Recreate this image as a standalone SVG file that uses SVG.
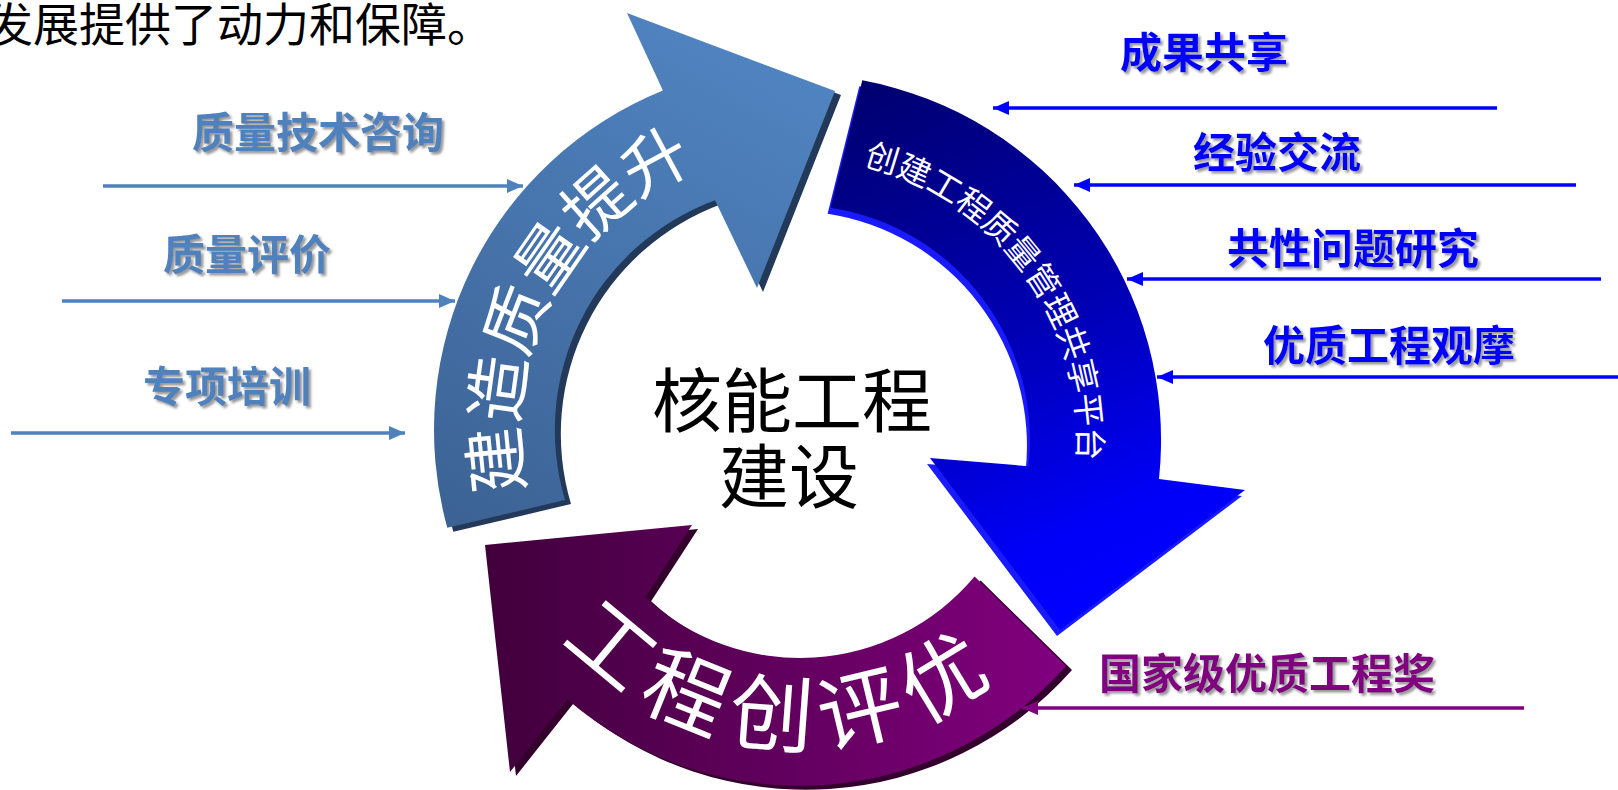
<svg xmlns="http://www.w3.org/2000/svg" width="1618" height="790" viewBox="0 0 1618 790">
  <defs>
    <style>
      .serif { font-family: "Liberation Serif", "Noto Sans CJK SC", serif; }
      .lbl { font-family: "Noto Sans CJK SC", "Liberation Sans", sans-serif; font-size: 42px; font-weight: bold; filter: url(#shadow); }
      .lbl-steel { fill: #4F81BD; }
      .lbl-blue { fill: #0000FF; }
      .lbl-purple { fill: #800080; }
      .arc-text { fill: #FFFFFF; font-family: "Noto Sans CJK SC", "Liberation Sans", sans-serif; }
      .ln { fill: none; stroke-width: 3.5; }
      .ln-steel { stroke: #4F81BD; marker-end: url(#mk-steel); }
      .ln-blue { stroke: #0000FF; marker-end: url(#mk-blue); }
      .ln-purple { stroke: #800080; marker-end: url(#mk-purple); }
    </style>
    <filter id="shadow" x="-5%" y="-20%" width="115%" height="150%">
      <feDropShadow dx="2.5" dy="2.5" stdDeviation="1" flood-color="#7f7f7f" flood-opacity="0.8"/>
    </filter>
    <marker id="mk-steel" markerUnits="userSpaceOnUse" markerWidth="16" markerHeight="14" refX="16" refY="7" orient="auto">
      <path d="M0,0 L16,7 L0,14 Z" fill="#4F81BD"/>
    </marker>
    <marker id="mk-blue" markerUnits="userSpaceOnUse" markerWidth="16" markerHeight="14" refX="16" refY="7" orient="auto">
      <path d="M0,0 L16,7 L0,14 Z" fill="#0000FF"/>
    </marker>
    <marker id="mk-purple" markerUnits="userSpaceOnUse" markerWidth="16" markerHeight="14" refX="16" refY="7" orient="auto">
      <path d="M0,0 L16,7 L0,14 Z" fill="#800080"/>
    </marker>
    <linearGradient id="g-steel" gradientUnits="userSpaceOnUse" x1="720" y1="20" x2="450" y2="530">
      <stop offset="0" stop-color="#5084C1"/>
      <stop offset="1" stop-color="#3C6294"/>
    </linearGradient>
    <linearGradient id="g-dark" gradientUnits="userSpaceOnUse" x1="860" y1="80" x2="1100" y2="620">
      <stop offset="0" stop-color="#00006E"/>
      <stop offset="0.5" stop-color="#0000B4"/>
      <stop offset="0.85" stop-color="#0000F8"/>
      <stop offset="1" stop-color="#0000FF"/>
    </linearGradient>
    <linearGradient id="g-purple" gradientUnits="userSpaceOnUse" x1="480" y1="0" x2="1070" y2="0">
      <stop offset="0" stop-color="#40003B"/>
      <stop offset="1" stop-color="#82007F"/>
    </linearGradient>
    <path id="tp-steel" d="M 561.7,578.9 A 281 281 0 0 1 790.2,149.2"/>
    <path id="tp-dark" d="M 765.4,158.6 A 283 283 0 0 1 1053.5,555.1"/>
    <path id="tp-purple" d="M 495.8,515.8 A 316 316 0 0 0 1088.1,559.8"/>
  </defs>

  <rect x="0" y="0" width="1618" height="790" fill="#FFFFFF"/>

  <g id="header">
    <text class="serif" x="-13" y="41" font-size="46" fill="#000000">发展提供了动力和保障。</text>
  </g>

  <g id="node-quality-upgrade">
    <path transform="translate(6,4)" fill="#22395A" d="M 447.3,527.8 A 366 366 0 0 1 662.9,90.6 L 627,13 L 835,91 L 757,288 L 715,200.2 A 245 245 0 0 0 565,500 Z"/>
    <path fill="url(#g-steel)" d="M 447.3,527.8 A 366 366 0 0 1 662.9,90.6 L 627,13 L 835,91 L 757,288 L 715,200.2 A 245 245 0 0 0 565,500 Z"/>
    <text class="arc-text" font-size="66"><textPath href="#tp-steel" startOffset="50%" text-anchor="middle">建造质量提升</textPath></text>
  </g>

  <g id="node-sharing-platform">
    <path transform="translate(-3,6)" fill="#1A1AFF" d="M 862.3,80.3 A 366 366 0 0 1 1159,478.9 L 1245,490 L 1060,630 L 930,458 L 1028.5,466.2 A 235 235 0 0 0 830.6,207.7 Z"/>
    <path fill="url(#g-dark)" d="M 862.3,80.3 A 366 366 0 0 1 1159,478.9 L 1245,490 L 1060,630 L 930,458 L 1028.5,466.2 A 235 235 0 0 0 830.6,207.7 Z"/>
    <text class="arc-text" font-size="33"><textPath href="#tp-dark" startOffset="50%" text-anchor="middle">创建工程质量管理共享平台</textPath></text>
  </g>

  <g id="node-excellence">
    <path transform="translate(6,4)" fill="#33002E" d="M 1066,666 A 356 356 0 0 1 567.4,699.5 L 510,772 L 485,545 L 692,525 L 645.1,597.3 A 228 228 0 0 0 974.6,576.6 Z"/>
    <path fill="url(#g-purple)" d="M 1066,666 A 356 356 0 0 1 567.4,699.5 L 510,772 L 485,545 L 692,525 L 645.1,597.3 A 228 228 0 0 0 974.6,576.6 Z"/>
    <text class="arc-text" font-size="84" letter-spacing="14"><textPath href="#tp-purple" startOffset="50%" text-anchor="middle">工程创评优</textPath></text>
  </g>

  <g id="node-center">
    <text class="serif" x="792" y="427" font-size="70" text-anchor="middle" fill="#000000">核能工程</text>
    <text class="serif" x="789" y="503" font-size="70" text-anchor="middle" fill="#000000">建设</text>
  </g>

  <g id="node-labels-left">
    <text class="lbl lbl-steel" x="192" y="148">质量技术咨询</text>
    <text class="lbl lbl-steel" x="163" y="270">质量评价</text>
    <text class="lbl lbl-steel" x="143" y="402">专项培训</text>
  </g>

  <g id="node-labels-right">
    <text class="lbl lbl-blue" x="1120" y="68">成果共享</text>
    <text class="lbl lbl-blue" x="1193" y="168">经验交流</text>
    <text class="lbl lbl-blue" x="1227" y="264">共性问题研究</text>
    <text class="lbl lbl-blue" x="1263" y="361">优质工程观摩</text>
    <text class="lbl lbl-purple" x="1099" y="689">国家级优质工程奖</text>
  </g>

  <g id="connectors">
    <line class="ln ln-steel" x1="103" y1="186" x2="523" y2="186"/>
    <line class="ln ln-steel" x1="62" y1="301" x2="455" y2="301"/>
    <line class="ln ln-steel" x1="11" y1="433" x2="405" y2="433"/>
    <line class="ln ln-blue" x1="1497" y1="108" x2="993" y2="108"/>
    <line class="ln ln-blue" x1="1576" y1="185" x2="1074" y2="185"/>
    <line class="ln ln-blue" x1="1601" y1="279" x2="1127" y2="279"/>
    <line class="ln ln-blue" x1="1618" y1="377" x2="1157" y2="377"/>
    <line class="ln ln-purple" x1="1524" y1="708" x2="1022" y2="708"/>
  </g>
</svg>
